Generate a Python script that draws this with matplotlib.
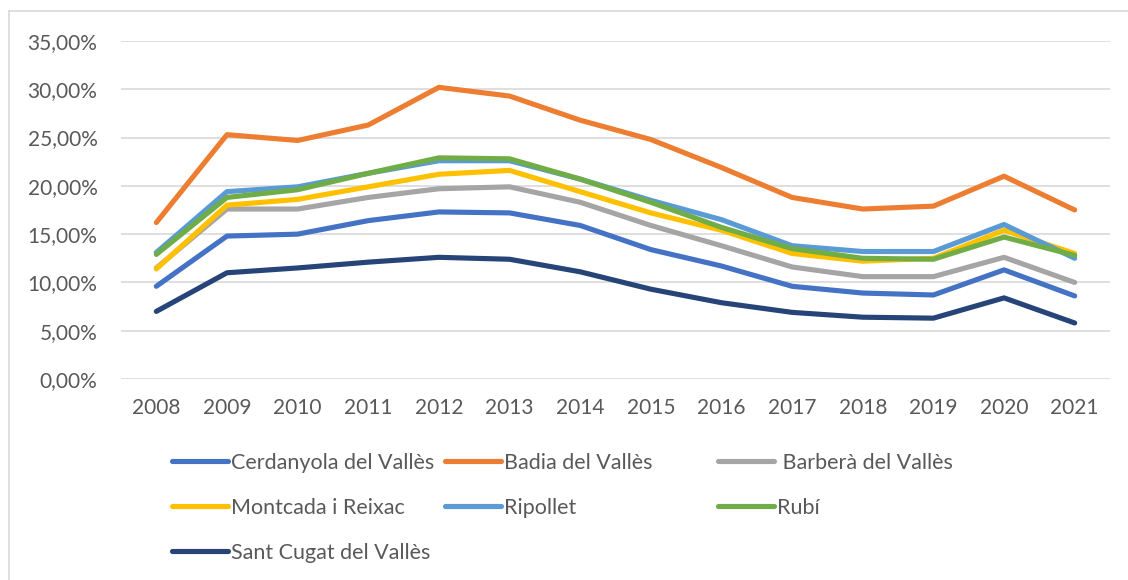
import matplotlib
matplotlib.use('Agg')
import matplotlib.pyplot as plt
from matplotlib.lines import Line2D
from matplotlib.ticker import FuncFormatter

plt.rcParams['font.family'] = ['Lato', 'DejaVu Sans']

# dades
years = [str(y) for y in range(2008, 2022)]
cerdanyola = [9.6, 14.8, 15.0, 16.4, 17.3, 17.2, 15.9, 13.4, 11.7, 9.6, 8.9, 8.7, 11.3, 8.6]
badia = [16.2, 25.3, 24.7, 26.3, 30.2, 29.3, 26.8, 24.8, 21.9, 18.8, 17.6, 17.9, 21.0, 17.5]
barbera = [11.5, 17.6, 17.6, 18.8, 19.7, 19.9, 18.3, 15.9, 13.8, 11.6, 10.6, 10.6, 12.6, 10.0]
montcada = [11.4, 18.0, 18.6, 19.9, 21.2, 21.6, 19.4, 17.2, 15.4, 13.0, 12.2, 12.5, 15.4, 13.0]
ripollet = [13.1, 19.4, 19.9, 21.3, 22.6, 22.6, 20.7, 18.5, 16.5, 13.8, 13.2, 13.2, 16.0, 12.5]
rubi = [12.9, 18.8, 19.6, 21.3, 22.9, 22.8, 20.7, 18.3, 15.7, 13.5, 12.5, 12.4, 14.7, 12.8]
sant_cugat = [7.0, 11.0, 11.5, 12.1, 12.6, 12.4, 11.1, 9.3, 7.9, 6.9, 6.4, 6.3, 8.4, 5.8]

series = [
    ('Cerdanyola del Vallès', cerdanyola, '#4472C4'),
    ('Badia del Vallès', badia, '#ED7D31'),
    (' Barberà del Vallès', barbera, '#A5A5A5'),
    ('Montcada i Reixac', montcada, '#FFC000'),
    ('Ripollet', ripollet, '#5B9BD5'),
    ('Rubí', rubi, '#70AD47'),
    ('Sant Cugat del Vallès', sant_cugat, '#264478'),
]

fig = plt.figure(figsize=(11.28, 5.8), dpi=100)
ax = fig.add_axes([121 / 1128, 1 - 379 / 580, 989 / 1128, 338 / 580])

x = list(range(len(years)))
handles = []
for name, vals, col in series:
    h, = ax.plot(x, [v / 100 for v in vals], color=col, lw=3.7,
                 solid_capstyle='round', solid_joinstyle='round', label=name)
    handles.append(h)

ax.set_xlim(-0.5, len(years) - 0.5)
ax.set_ylim(0, 0.35)
ax.set_yticks([i * 0.05 for i in range(8)])
ax.yaxis.set_major_formatter(FuncFormatter(lambda v, p: f'{v * 100:.2f}%'.replace('.', ',')))
ax.set_xticks(x)
ax.set_xticklabels(years)
ax.grid(axis='y', color='#D9D9D9', lw=1.2)
ax.set_axisbelow(True)
for s in ax.spines.values():
    s.set_visible(False)
ax.tick_params(axis='both', length=0, labelsize=15, colors='#595959')
ax.tick_params(axis='y', pad=17)
ax.tick_params(axis='x', pad=14)

# llegenda en tres columnes com a l'original
cols = [[0, 3, 6], [1, 4], [2, 5]]
col_x = [172, 445, 718]
for idx, cx in zip(cols, col_x):
    lg = fig.legend([handles[i] for i in idx], [series[i][0] for i in idx],
                    loc='upper left', bbox_to_anchor=(cx / 1128, 1 - 453 / 580),
                    frameon=False, fontsize=15.5, handlelength=2.6, handletextpad=0.15,
                    borderpad=0, borderaxespad=0, labelspacing=1.15)
    for t in lg.get_texts():
        t.set_color('#595959')

# vora del gràfic
fig.add_artist(Line2D([9 / 1128, 9 / 1128], [0, 1 - 11 / 580], transform=fig.transFigure,
                      color='#D9D9D9', lw=1.2))
fig.add_artist(Line2D([9 / 1128, 1], [1 - 11 / 580, 1 - 11 / 580], transform=fig.transFigure,
                      color='#D9D9D9', lw=1.2))

fig.savefig('out.png', dpi=100)
